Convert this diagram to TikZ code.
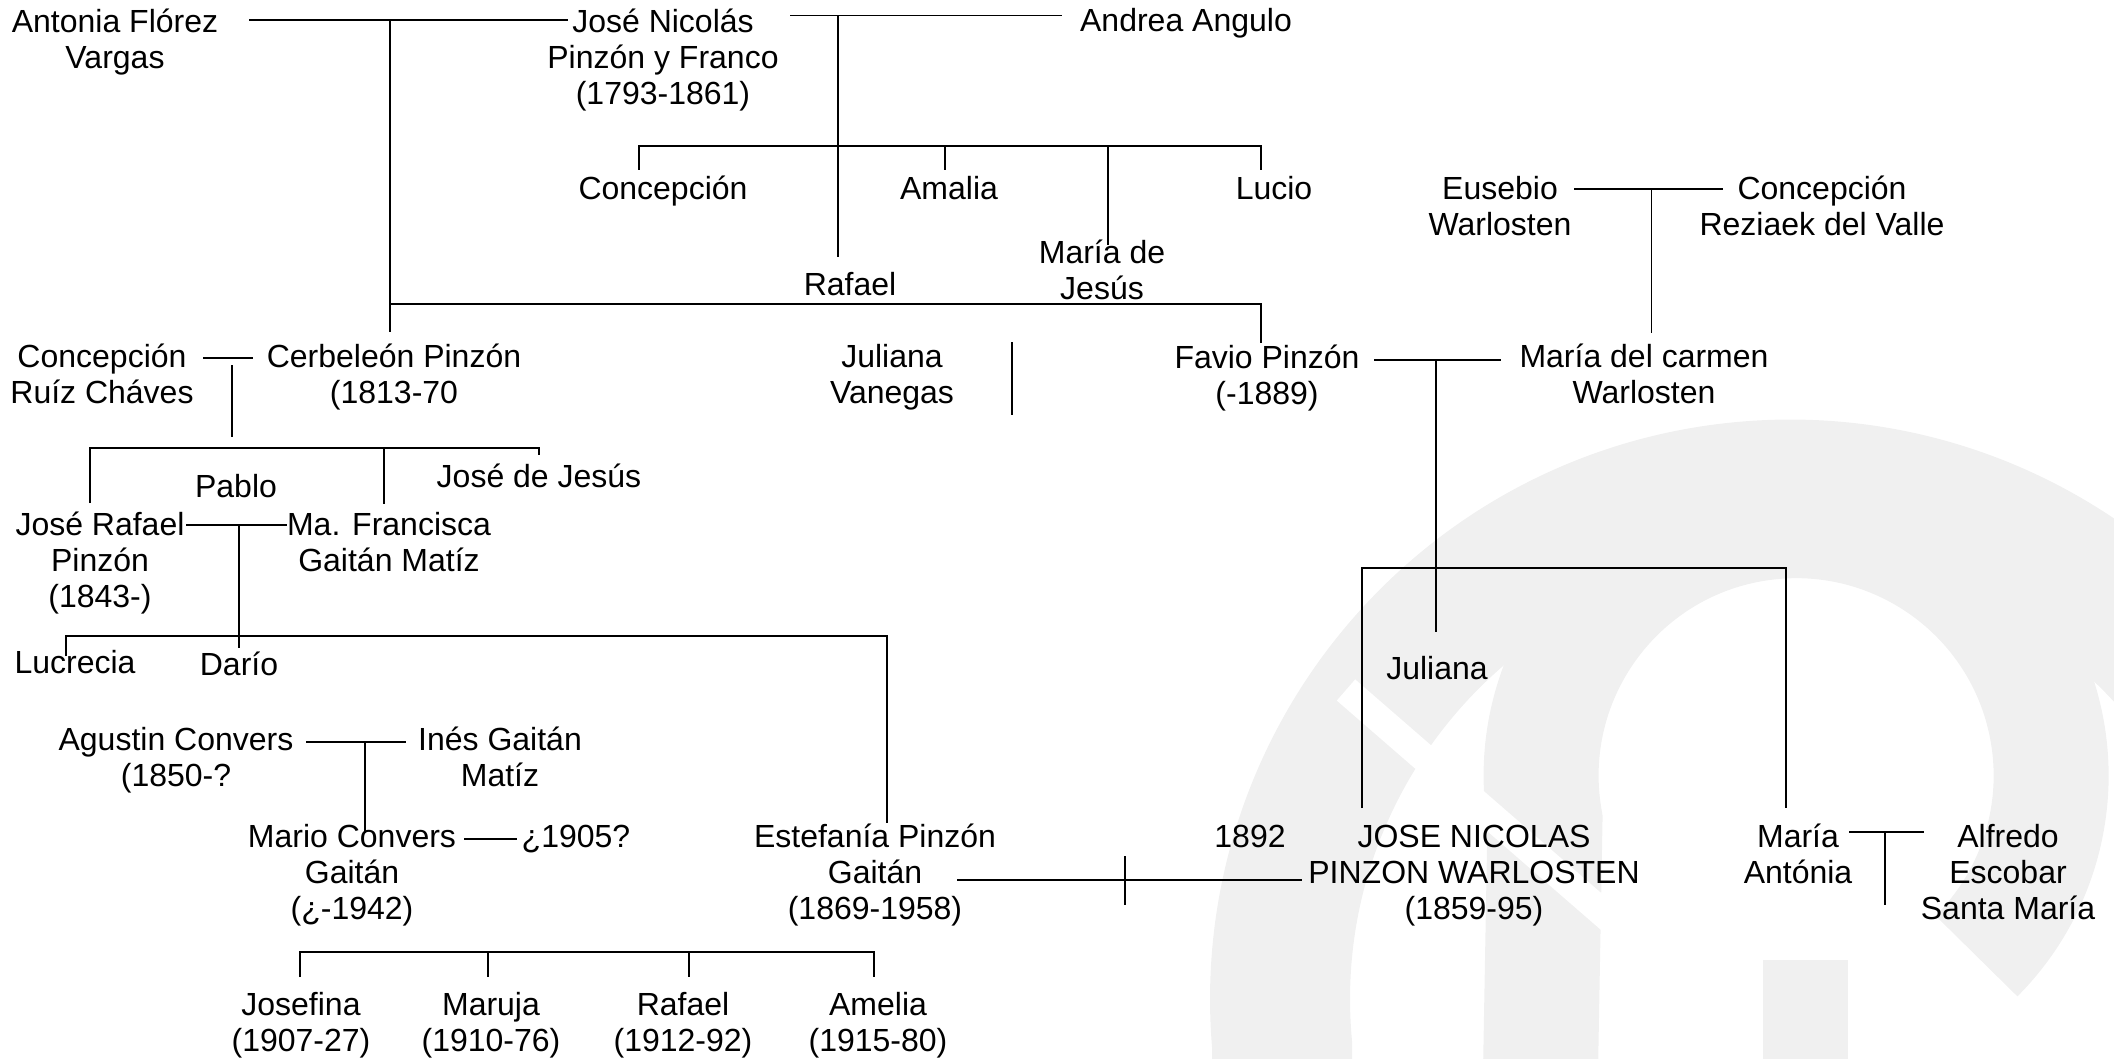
\documentclass[tikz,border=0pt]{standalone}
\usepackage{fontspec}
\setmainfont{Liberation Sans}
\newcommand\fst{\rule{0pt}{33pt}}
\begin{document}
\begin{tikzpicture}[x=1pt,y=-1pt,
  person/.style={align=center, inner sep=0pt, anchor=north, font=\fontsize{32}{36}\selectfont},
  link/.style={line width=1.7pt, line cap=butt},
  wm/.style={draw=black!6, line cap=butt}]
\useasboundingbox (0,0) rectangle (2114,1059);
% ---- watermark (faint logo) ----
\draw[wm, line width=140pt] (1282,1100) -- (1282,1044) arc[start angle=-185, end angle=-20, radius=510] -- ++(-60,250);
\draw[wm, line width=115pt] (1540,1100) -- (1545,820) arc[start angle=-190, end angle=45, radius=255];
\draw[wm, line width=85pt] (1805,960) -- (1805,1100);
\draw[white, line width=28pt] (1346,690) -- (1680,980);
% ---- people ----
\node[person] (antonia) at (115,-1) {\fst Antonia Flórez\\Vargas};
\node[person] (josen) at (663,-1) {\fst José Nicolás\\Pinzón y Franco\\(1793-1861)};
\node[person] (andrea) at (1186,-2) {\fst Andrea Angulo};
\node[person] (concep1) at (663,166) {\fst Concepción};
\node[person] (amalia) at (949,166) {\fst Amalia};
\node[person] (lucio) at (1274,166) {\fst Lucio};
\node[person] (rafael1) at (850,262) {\fst Rafael};
\node[person] (mariaj) at (1102,230) {\fst María de\\Jesús};
\node[person] (eusebio) at (1500,166) {\fst Eusebio\\Warlosten};
\node[person] (concep2) at (1822,166) {\fst Concepción\\Reziaek del Valle};
\node[person] (concep3) at (102,334) {\fst Concepción\\Ruíz Cháves};
\node[person] (cerbeleon) at (394,334) {\fst Cerbeleón Pinzón\\(1813-70};
\node[person] (julianav) at (892,334) {\fst Juliana\\Vanegas};
\node[person] (favio) at (1267,335) {\fst Favio Pinzón\\(-1889)};
\node[person] (mariac) at (1644,334) {\fst María del carmen\\Warlosten};
\node[person] (josejesus) at (539,454) {\fst José de Jesús};
\node[person] (pablo) at (236,464) {\fst Pablo};
\node[person] (joserafael) at (100,502) {\fst José Rafael\\Pinzón\\(1843-)};
\node[person] (mafrancisca) at (389,502) {\fst Ma. Francisca\\Gaitán Matíz};
\node[person] (lucrecia) at (75,640) {\fst Lucrecia};
\node[person] (dario) at (239,642) {\fst Darío};
\node[person] (juliana) at (1437,646) {\fst Juliana};
\node[person] (agustin) at (176,717) {\fst Agustin Convers\\(1850-?};
\node[person] (ines) at (500,717) {\fst Inés Gaitán\\Matíz};
\node[person] (mario) at (352,814) {\fst Mario Convers\\Gaitán\\(¿-1942)};
\node[person] (q1905) at (576,814) {\fst ¿1905?};
\node[person] (estefania) at (875,814) {\fst Estefanía Pinzón\\Gaitán\\(1869-1958)};
\node[person] (y1892) at (1250,814) {\fst 1892};
\node[person] (josenp) at (1474,814) {\fst JOSE NICOLAS\\PINZON WARLOSTEN\\(1859-95)};
\node[person] (mariaa) at (1798,814) {\fst María\\Antónia};
\node[person] (alfredo) at (2008,814) {\fst Alfredo\\Escobar\\Santa María};
\node[person] (josefina) at (301,982) {\fst Josefina\\(1907-27)};
\node[person] (maruja) at (491,982) {\fst Maruja\\(1910-76)};
\node[person] (rafael2) at (683,982) {\fst Rafael\\(1912-92)};
\node[person] (amelia) at (878,982) {\fst Amelia\\(1915-80)};
% ---- junction coordinates ----
\coordinate (m1a) at (249,20);   \coordinate (m1b) at (568,20);
\coordinate (m1d) at (390,20);   \coordinate (m1e) at (390,332);
\coordinate (m2a) at (790,15.5); \coordinate (m2b) at (1062,15.5);
\coordinate (m2d) at (838,15.5); \coordinate (m2e) at (838,257);
\coordinate (k1a) at (639,146);  \coordinate (k1b) at (1261,146);
\coordinate (k1c) at (639,170);  \coordinate (k1d) at (1261,170);
\coordinate (k1e) at (945,146);  \coordinate (k1f) at (945,170);
\coordinate (k1g) at (1108,146); \coordinate (k1h) at (1108,245);
\coordinate (k2a) at (390,304);  \coordinate (k2b) at (1261,304);
\coordinate (k2c) at (1261,343);
\coordinate (m3a) at (1574,189); \coordinate (m3b) at (1723,189);
\coordinate (m3d) at (1651.5,189); \coordinate (m3e) at (1651.5,333);
\coordinate (m4a) at (203,358);  \coordinate (m4b) at (253,358);
\coordinate (m4d) at (232,365);  \coordinate (m4e) at (232,437);
\coordinate (k3a) at (90,448);   \coordinate (k3b) at (539,448);
\coordinate (k3c) at (90,503);   \coordinate (k3d) at (384,448);
\coordinate (k3e) at (384,504);  \coordinate (k3f) at (539,455);
\coordinate (m5a) at (186,525);  \coordinate (m5b) at (287,525);
\coordinate (m5d) at (239,525);  \coordinate (m5e) at (239,648);
\coordinate (k4a) at (66,636);   \coordinate (k4b) at (887,636);
\coordinate (k4c) at (66,656);   \coordinate (k4d) at (887,823);
\coordinate (jv1) at (1012,342); \coordinate (jv2) at (1012,415);
\coordinate (m6a) at (1374,360); \coordinate (m6b) at (1501,360);
\coordinate (m6d) at (1436,360); \coordinate (m6e) at (1436,632);
\coordinate (k5a) at (1362,568); \coordinate (k5b) at (1786,568);
\coordinate (k5c) at (1362,808); \coordinate (k5d) at (1786,808);
\coordinate (m7a) at (306,742);  \coordinate (m7b) at (406,742);
\coordinate (m7d) at (365,742);  \coordinate (m7e) at (365,833);
\coordinate (m8a) at (464,839);  \coordinate (m8b) at (517,839);
\coordinate (m9a) at (957,880);  \coordinate (m9b) at (1302,880);
\coordinate (m9c) at (1125,856); \coordinate (m9d) at (1125,905);
\coordinate (k6a) at (300,952);  \coordinate (k6b) at (874,952);
\coordinate (k6c) at (300,977);  \coordinate (k6d) at (488,952);
\coordinate (k6e) at (488,977);  \coordinate (k6f) at (689,952);
\coordinate (k6g) at (689,977);  \coordinate (k6h) at (874,977);
\coordinate (m10a) at (1849,832); \coordinate (m10b) at (1924,832);
\coordinate (m10d) at (1885,832); \coordinate (m10e) at (1885,905);
% ---- connectors ----
\draw[link] (m1a) -- (m1b);
\draw[link] (m1d) -- (m1e);
\draw[link] (m2a) -- (m2b);
\draw[link] (m2d) -- (m2e);
\draw[link] (k1c) -- (k1a) -- (k1b) -- (k1d);
\draw[link] (k1e) -- (k1f);
\draw[link] (k1g) -- (k1h);
\draw[link] (k2a) -- (k2b) -- (k2c);
\draw[link] (m3a) -- (m3b);
\draw[link] (m3d) -- (m3e);
\draw[link] (m4a) -- (m4b);
\draw[link] (m4d) -- (m4e);
\draw[link] (k3c) -- (k3a) -- (k3b) -- (k3f);
\draw[link] (k3d) -- (k3e);
\draw[link] (m5a) -- (m5b);
\draw[link] (m5d) -- (m5e);
\draw[link] (k4c) -- (k4a) -- (k4b) -- (k4d);
\draw[link] (jv1) -- (jv2);
\draw[link] (m6a) -- (m6b);
\draw[link] (m6d) -- (m6e);
\draw[link] (k5c) -- (k5a) -- (k5b) -- (k5d);
\draw[link] (m7a) -- (m7b);
\draw[link] (m7d) -- (m7e);
\draw[link] (m8a) -- (m8b);
\draw[link] (m9a) -- (m9b);
\draw[link] (m9c) -- (m9d);
\draw[link] (k6c) -- (k6a) -- (k6b) -- (k6h);
\draw[link] (k6d) -- (k6e);
\draw[link] (k6f) -- (k6g);
\draw[link] (m10a) -- (m10b);
\draw[link] (m10d) -- (m10e);
\end{tikzpicture}
\end{document}
